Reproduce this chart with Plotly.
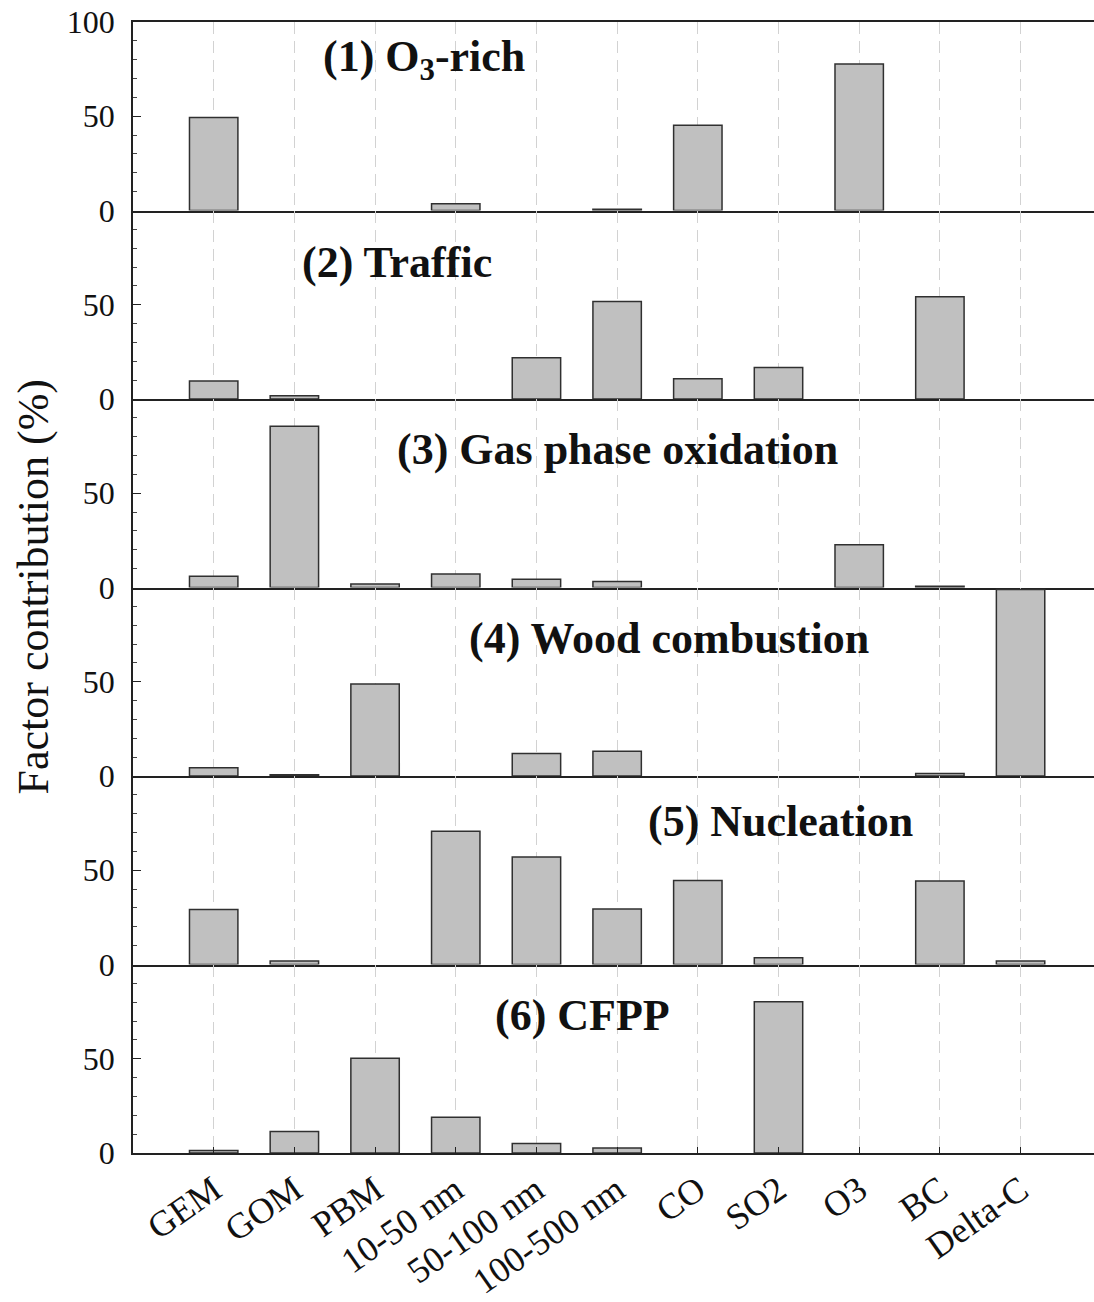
import plotly.graph_objects as go
from plotly.subplots import make_subplots

categories = ["GEM", "GOM", "PBM", "10-50 nm", "50-100 nm", "100-500 nm",
              "CO", "SO2", "O3", "BC", "Delta-C"]

f1_o3_rich = [49.4, 0, 0, 3.6, 0, 0.7, 45.2, 0, 77.7, 0, 0]
f2_traffic = [9.6, 1.7, 0, 0, 21.9, 51.7, 10.7, 16.7, 0, 54.2, 0]
f3_gas_phase = [6.0, 85.6, 1.9, 7.2, 4.4, 3.2, 0, 0, 22.7, 0.7, 0]
f4_wood = [4.4, 0.6, 48.8, 0, 12.0, 13.1, 0, 0, 0, 1.3, 99.0]
f5_nucleation = [29.2, 1.8, 0, 70.7, 57.0, 29.5, 44.5, 3.6, 0, 44.3, 1.8]
f6_cfpp = [1.3, 11.4, 50.3, 19.0, 5.1, 2.7, 0, 80.2, 0, 0, 0]

panel_values = [f1_o3_rich, f2_traffic, f3_gas_phase, f4_wood, f5_nucleation, f6_cfpp]
panel_titles = ["<b>(1) O<sub>3</sub>-rich</b>", "<b>(2) Traffic</b>",
                "<b>(3) Gas phase oxidation</b>", "<b>(4) Wood combustion</b>",
                "<b>(5) Nucleation</b>", "<b>(6) CFPP</b>"]
y_title = "Factor contribution (%)"

W, H = 1094, 1302
ML, MR, MT, MB = 133, 0, 22, 140
FONT = "Liberation Serif, Times New Roman, serif"

fig = make_subplots(rows=6, cols=1, shared_xaxes=True, vertical_spacing=0)

for i, vals in enumerate(panel_values):
    fig.add_trace(go.Bar(
        x=categories,
        y=[v if v != 0 else None for v in vals],
        width=0.6,
        marker=dict(color="#c0c0c0", line=dict(color="#303030", width=1.5)),
        showlegend=False,
    ), row=i + 1, col=1)

for r in range(1, 7):
    fig.update_xaxes(
        row=r, col=1,
        range=[-1, 10.91],
        showgrid=True, gridcolor="#d2d2d2", gridwidth=1, griddash="12px,7px",
        showline=True, linecolor="#222", linewidth=1.5,
        zeroline=False,
        mirror=(r == 1),
        ticks="inside" if r == 6 else "",
        ticklen=6, tickcolor="#222", tickwidth=1.2,
        showticklabels=(r == 6),
        tickangle=-35,
        tickfont=dict(family=FONT, size=36, color="#111"),
    )
    fig.update_yaxes(
        row=r, col=1,
        range=[0, 100],
        showgrid=False, zeroline=False,
        showline=True, linecolor="#222", linewidth=1.5,
        tickmode="array",
        tickvals=[0, 50, 100] if r == 1 else [0, 50],
        ticks="inside", ticklen=8, tickcolor="#222", tickwidth=1.2,
        minor=dict(ticks="inside", ticklen=4, tickmode="linear", tick0=0, dtick=10,
                   tickcolor="#444", tickwidth=1, showgrid=False),
        tickfont=dict(family=FONT, size=32, color="#111"),
        ticklabelstandoff=10,
    )

# panel title positions in pixels (centre x, centre y)
title_pos = [(424, 60), (397, 264), (617, 453), (669, 643), (780, 828), (582, 1023)]
plot_w = W - ML - MR
plot_h = H - MT - MB
for txt, (px, py) in zip(panel_titles, title_pos):
    fig.add_annotation(
        text=txt, xref="paper", yref="paper",
        x=(px - ML) / plot_w, y=(H - MB - py) / plot_h,
        xanchor="center", yanchor="middle", showarrow=False,
        font=dict(family=FONT, size=44, color="#111"),
    )

fig.add_annotation(
    text=y_title, xref="paper", yref="paper",
    x=(33 - ML) / plot_w, y=0.5, textangle=-90,
    xanchor="center", yanchor="middle", showarrow=False,
    font=dict(family=FONT, size=44, color="#111"),
)

fig.update_layout(
    width=W, height=H,
    margin=dict(l=ML, r=MR, t=MT, b=MB),
    paper_bgcolor="white", plot_bgcolor="white",
    bargap=0.4,
)

fig.write_html("out.html")
